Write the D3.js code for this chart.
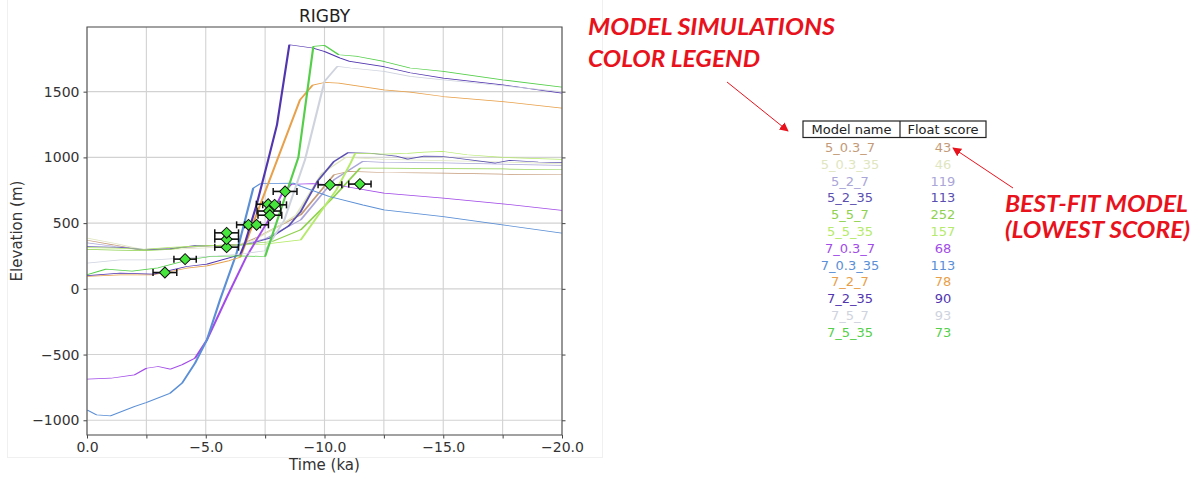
<!DOCTYPE html>
<html><head><meta charset="utf-8">
<script src="https://cdn.jsdelivr.net/npm/d3@7"></script>
<style>body{margin:0;background:#fff}svg{display:block}</style>
</head><body><svg id="c" width="1196" height="479"></svg>
<script>
// ---------- DATA ----------
const chartTitle = "RIGBY";
const modelNames = ["5_0.3_7","5_0.3_35","5_2_7","5_2_35","5_5_7","5_5_35","7_0.3_7","7_0.3_35","7_2_7","7_2_35","7_5_7","7_5_35"];
const floatScores = [43,46,119,113,252,157,68,113,78,90,93,73];
const xTicks = [0,-5,-10,-15,-20];
const xMinorTicks = [-2.5,-7.5,-12.5,-17.5];
const yTicks = [-1000,-500,0,500,1000,1500];

// model simulations: [time (ka), elevation (m)]
const m_5_03_7 = [[0,370],[-1.1,335],[-2.2,297],[-3.3,305],[-4.5,320],[-5.5,330],[-6.5,340],[-7.2,395],[-8.0,470],[-9.0,563],[-10.4,868],[-11.0,893],[-12.5,885],[-15,880],[-17.5,872],[-20,868]];
const m_5_03_35 = [[0,386],[-1.2,345],[-2.3,300],[-3.5,300],[-5,312],[-6,322],[-7,370],[-8,470],[-8.8,560],[-9.9,880],[-10.9,1000],[-12.5,985],[-15,975],[-17.5,965],[-20,950]];
const m_5_2_7 = [[0,350],[-1.2,322],[-2.4,300],[-3.5,310],[-5,325],[-6.5,335],[-7.5,380],[-9.0,525],[-10.4,830],[-11.6,969],[-12.5,962],[-15,958],[-17.5,948],[-20,940]];
const m_5_2_35 = [[0,322],[-1.4,315],[-2.4,297],[-3.5,304],[-4.6,330],[-5.6,330],[-6.6,335],[-7.0,350],[-7.7,386],[-8.5,480],[-9.0,588],[-9.7,817],[-10.4,969],[-11.0,1037],[-12.0,1030],[-12.5,1020],[-13.0,1010],[-13.5,987],[-14.2,1010],[-15,1007],[-16.3,977],[-17.2,957],[-17.8,977],[-19,965],[-20,961]];
const m_5_5_7 = [[0,300],[-1.2,295],[-2.4,290],[-3.5,300],[-4.3,322],[-5.5,330],[-6.4,335],[-7.8,360],[-9.0,449],[-10.4,702],[-11.5,918],[-12.5,918],[-15,915],[-17.5,912],[-20,906]];
const m_5_5_35 = [[0,314],[-1.2,310],[-2.4,300],[-3.5,315],[-4.6,325],[-5.6,330],[-6.6,335],[-7.5,340],[-8.2,355],[-9.0,373],[-9.8,576],[-10.5,753],[-11.1,957],[-11.3,1033],[-12.5,1025],[-13.5,1030],[-14.2,1040],[-15,1045],[-16,1020],[-17.5,1000],[-20,985]];
const m_7_03_7 = [[0,-687],[-1,-680],[-2,-655],[-2.5,-604],[-3,-591],[-3.5,-611],[-4,-578],[-4.55,-527],[-5.05,-388],[-5.9,-59],[-6.7,240],[-7.6,510],[-8.2,720],[-8.6,795],[-9.5,800],[-10.5,790],[-12.5,728],[-15,690],[-17.5,647],[-20,596]];
const m_7_03_35 = [[0,-921],[-0.4,-959],[-1,-966],[-2,-896],[-2.5,-865],[-3.5,-794],[-4,-718],[-4.55,-565],[-5.05,-388],[-5.6,-84],[-6.3,272],[-7.0,766],[-7.3,800],[-8.7,804],[-9.0,780],[-10.2,702],[-11.6,639],[-12.5,601],[-15,550],[-17.5,487],[-20,424]];
const m_7_2_7 = [[0,94],[-1.4,107],[-2.8,107],[-4.2,157],[-5.05,175],[-6.0,215],[-6.45,240],[-6.78,395],[-8.97,1438],[-9.5,1550],[-10.0,1570],[-10.6,1565],[-12.5,1514],[-13.6,1497],[-15,1463],[-17.5,1425],[-20,1375]];
const m_7_2_35 = [[0,100],[-1.4,119],[-2.8,112],[-4.2,170],[-5.05,188],[-6.45,259],[-6.65,348],[-7.14,639],[-7.63,982],[-8.0,1248],[-8.52,1857],[-9.5,1832],[-10,1806],[-10.65,1756],[-11.07,1730],[-12.5,1690],[-13.6,1644],[-15,1603],[-17.5,1552],[-20,1489]];
const m_7_5_7 = [[0,196],[-1.4,221],[-2.8,221],[-4.2,235],[-5.5,250],[-6.5,265],[-7.5,290],[-8.3,520],[-9.18,982],[-10.0,1578],[-10.54,1692],[-11.1,1680],[-12.5,1654],[-13.6,1616],[-15,1590],[-17.5,1545],[-20,1500]];
const m_7_5_35 = [[0,107],[-0.8,150],[-1.9,135],[-3,160],[-4.3,221],[-5.2,246],[-6.4,251],[-7.5,246],[-8.9,1000],[-9.53,1844],[-10.0,1852],[-10.6,1781],[-11.4,1768],[-12.5,1730],[-13.6,1680],[-15,1654],[-17.5,1590],[-20,1535]];
const modelSeries = [m_5_03_7,m_5_03_35,m_5_2_7,m_5_2_35,m_5_5_7,m_5_5_35,m_7_03_7,m_7_03_35,m_7_2_7,m_7_2_35,m_7_5_7,m_7_5_35];

// observed data points
const obsTime = [-3.28,-4.13,-5.88,-5.88,-5.88,-6.8,-7.14,-7.63,-7.9,-7.66,-7.7,-8.34,-10.23,-11.49];
const obsElev = [124,226,317,378,426,487,487,644,639,592,560,741,791,797];
const obsErr  = [0.5,0.47,0.5,0.5,0.5,0.5,0.5,0.5,0.5,0.5,0.5,0.5,0.5,0.47];

// ---------- STYLE ----------
const modelColors = ["#c49a78","#dfe6bf","#aaa6d8","#5a4fb0","#8fd14f","#b5ea6a","#a24ce8","#5b8fd6","#e8a04a","#5236b0","#cfd3de","#55cf4a"];
const red = "#e8121c";

const svg = d3.select("#c");
const L=87, R=562, T=27, B=435;
const x = d3.scaleLinear().domain([0,-20]).range([L,R]);
const y = d3.scaleLinear().domain([-1112,1992]).range([B,T]);

// faint screenshot frame
svg.append("rect").attr("x",7.5).attr("y",-2).attr("width",595).attr("height",459.5)
  .attr("fill","none").attr("stroke","#f0f0f0").attr("stroke-width",1);

// grid
const g = svg.append("g");
g.selectAll(".gx").data(xTicks.concat(xMinorTicks)).join("line")
  .attr("x1",d=>x(d)).attr("x2",d=>x(d)).attr("y1",T).attr("y2",B)
  .attr("stroke","#d2d2d2").attr("stroke-width",1.1);
g.selectAll(".gy").data(yTicks).join("line")
  .attr("x1",L).attr("x2",R).attr("y1",d=>y(d)).attr("y2",d=>y(d))
  .attr("stroke","#d2d2d2").attr("stroke-width",1.1);

// clip
svg.append("clipPath").attr("id","clip").append("rect").attr("x",L).attr("y",T).attr("width",R-L).attr("height",B-T);

// lines drawn in a vertically stretched space then squeezed back, so
// flat segments render thinner/lighter than steep ones (as in the reference)
const SQ = 3;
const line = d3.line().x(d=>x(d[0])).y(d=>SQ*y(d[1]));
svg.append("g").attr("clip-path","url(#clip)")
  .append("g").attr("transform",`scale(1,${1/SQ})`)
  .selectAll("path").data(modelSeries).join("path")
  .attr("d",line).attr("fill","none").attr("stroke",(d,i)=>modelColors[i])
  .attr("stroke-width",2.2).attr("stroke-linejoin","round");

// observations
const obs = obsTime.map((t,i)=>({t,e:obsElev[i],err:obsErr[i]}));
const og = svg.append("g");
og.selectAll(".eb").data(obs).join("line")
  .attr("x1",d=>x(d.t+d.err)).attr("x2",d=>x(d.t-d.err)).attr("y1",d=>y(d.e)).attr("y2",d=>y(d.e))
  .attr("stroke","#111").attr("stroke-width",1.6);
og.selectAll(".c1").data(obs).join("line")
  .attr("x1",d=>x(d.t+d.err)).attr("x2",d=>x(d.t+d.err)).attr("y1",d=>y(d.e)-3.5).attr("y2",d=>y(d.e)+3.5)
  .attr("stroke","#111").attr("stroke-width",1.5);
og.selectAll(".c2").data(obs).join("line")
  .attr("x1",d=>x(d.t-d.err)).attr("x2",d=>x(d.t-d.err)).attr("y1",d=>y(d.e)-3.5).attr("y2",d=>y(d.e)+3.5)
  .attr("stroke","#111").attr("stroke-width",1.5);
og.selectAll(".dm").data(obs).join("path")
  .attr("d",d3.symbol(d3.symbolSquare,60))
  .attr("transform",d=>`translate(${x(d.t)},${y(d.e)}) rotate(45)`)
  .attr("fill","#46e63c").attr("stroke","#111").attr("stroke-width",1);

// axes
const fmtX = d=> xTicks.includes(d) ? d3.format(".1f")(d) : "";
const ax = svg.append("g").attr("transform",`translate(0,${B})`)
  .call(d3.axisBottom(x).tickValues(xTicks.concat(xMinorTicks)).tickFormat(fmtX).tickSize(3.5).tickPadding(4));
const ay = svg.append("g").attr("transform",`translate(${L},0)`)
  .call(d3.axisLeft(y).tickValues(yTicks).tickFormat(d3.format("d")).tickSize(3.5).tickPadding(4));
const ar = svg.append("g").attr("transform",`translate(${R},0)`)
  .call(d3.axisRight(y).tickValues(yTicks).tickFormat("").tickSize(3.5));
[ax,ay,ar].forEach(a=>{
  a.select(".domain").remove();
  a.selectAll("line").attr("stroke","#444").attr("stroke-width",1);
  a.selectAll("text").attr("font-family","DejaVu Sans").attr("font-size",14).attr("fill","#333");
});
svg.append("rect").attr("x",L).attr("y",T).attr("width",R-L).attr("height",B-T)
  .attr("fill","none").attr("stroke","#555").attr("stroke-width",1.1);

// titles
svg.append("text").attr("x",(L+R)/2).attr("y",22).attr("text-anchor","middle")
  .attr("font-family","DejaVu Sans").attr("font-size",17).attr("fill","#222").text(chartTitle);
svg.append("text").attr("x",(L+R)/2).attr("y",470).attr("text-anchor","middle")
  .attr("font-family","DejaVu Sans").attr("font-size",15).attr("fill","#333").text("Time (ka)");
svg.append("text").attr("transform",`translate(22,${(T+B)/2}) rotate(-90)`).attr("text-anchor","middle")
  .attr("font-family","DejaVu Sans").attr("font-size",15).attr("fill","#333").text("Elevation (m)");

// legend table
const tg = svg.append("g").attr("font-family","DejaVu Sans").attr("font-size",13);
tg.append("rect").attr("x",803).attr("y",121).attr("width",183).attr("height",16.5)
  .attr("fill","none").attr("stroke","#222").attr("stroke-width",1.2);
tg.append("line").attr("x1",900).attr("x2",900).attr("y1",121).attr("y2",137.5).attr("stroke","#222").attr("stroke-width",1.2);
tg.append("text").attr("x",851.5).attr("y",134).attr("text-anchor","middle").attr("fill","#222").text("Model name");
tg.append("text").attr("x",943).attr("y",134).attr("text-anchor","middle").attr("fill","#222").text("Float score");
tg.selectAll(".nm").data(modelNames).join("text")
  .attr("x",850).attr("y",(d,i)=>152+i*16.8).attr("text-anchor","middle")
  .attr("fill",(d,i)=>modelColors[i]).text(d=>d);
tg.selectAll(".sc").data(floatScores).join("text")
  .attr("x",943).attr("y",(d,i)=>152+i*16.8).attr("text-anchor","middle")
  .attr("fill",(d,i)=>modelColors[i]).text(d=>d);

// annotations
const defs = svg.append("defs");
defs.append("marker").attr("id","ah").attr("viewBox","0 0 10 10").attr("refX",9).attr("refY",5)
  .attr("markerWidth",9).attr("markerHeight",9).attr("markerUnits","userSpaceOnUse").attr("orient","auto")
  .append("path").attr("d","M0,0 L10,5 L0,10 z").attr("fill",red);
const an = svg.append("g").attr("font-family","Lato").attr("font-weight",700).attr("font-style","italic").attr("fill",red).attr("font-size",23);
an.append("text").attr("x",588).attr("y",35).attr("textLength",247).attr("lengthAdjust","spacingAndGlyphs").text("MODEL SIMULATIONS");
an.append("text").attr("x",588).attr("y",67).attr("textLength",172).attr("lengthAdjust","spacingAndGlyphs").text("COLOR LEGEND");
an.append("text").attr("x",1005).attr("y",212).attr("textLength",183).attr("lengthAdjust","spacingAndGlyphs").text("BEST-FIT MODEL");
an.append("text").attr("x",1005).attr("y",238).attr("textLength",185).attr("lengthAdjust","spacingAndGlyphs").text("(LOWEST SCORE)");
svg.append("line").attr("x1",727).attr("y1",82).attr("x2",788).attr("y2",131)
  .attr("stroke",red).attr("stroke-width",1).attr("marker-end","url(#ah)");
svg.append("line").attr("x1",1013).attr("y1",188).attr("x2",953).attr("y2",148)
  .attr("stroke",red).attr("stroke-width",1).attr("marker-end","url(#ah)");
</script></body></html>
